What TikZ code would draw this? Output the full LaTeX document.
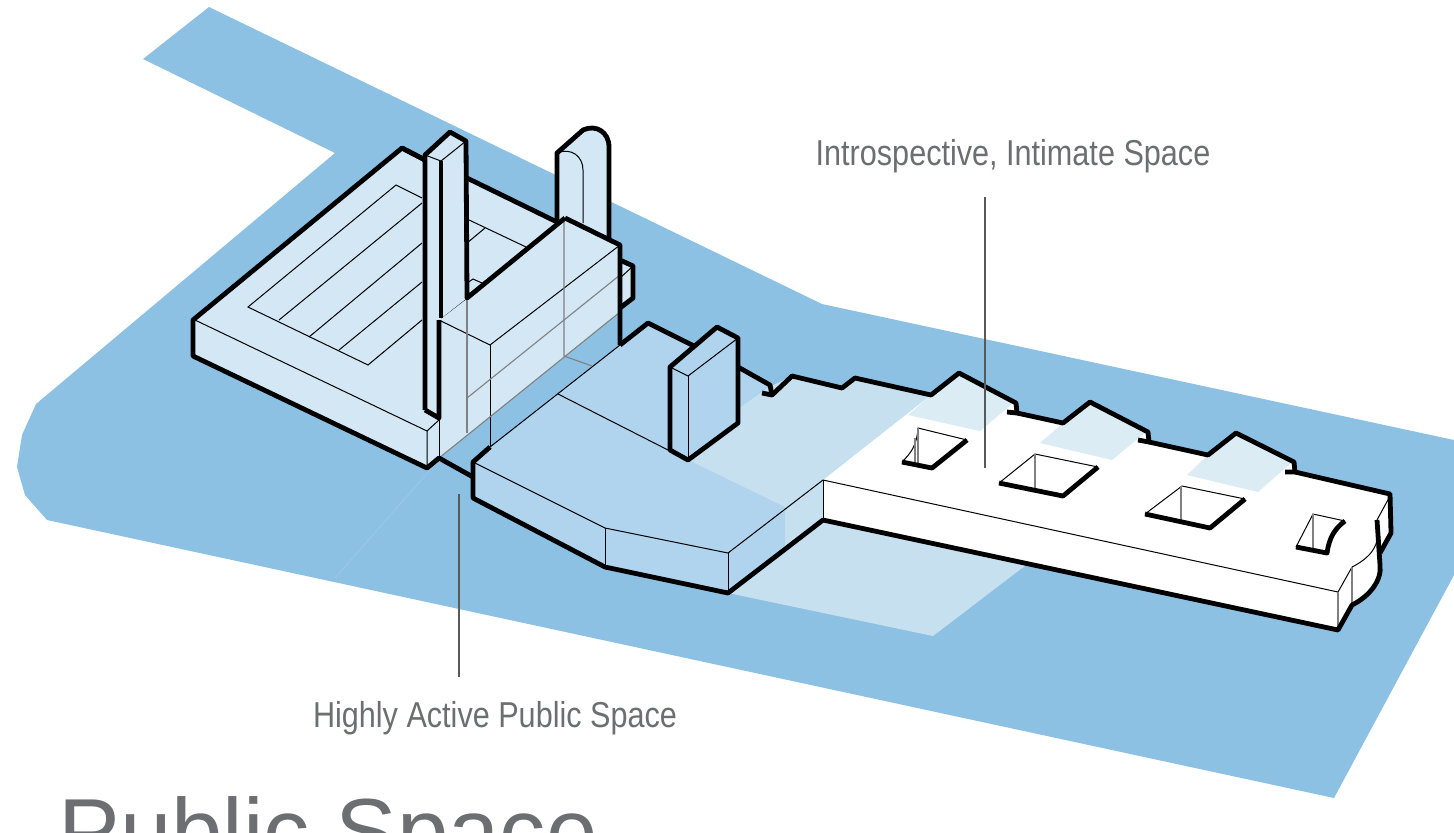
\documentclass[tikz,border=0pt]{standalone}
\usepackage{fontspec}
\usepackage{xcolor}
\setmainfont[FakeStretch=0.85]{Liberation Sans}
\newfontfamily\titlefont{Liberation Sans}
\definecolor{waterblue}{HTML}{8DC1E3}
\definecolor{washblue}{HTML}{C6E0F0}
\definecolor{plazablue}{HTML}{B0D4ED}
\definecolor{blockblue}{HTML}{D4E7F5}
\definecolor{patchblue}{HTML}{DBECF5}
\definecolor{labelgrey}{HTML}{6D6E71}

\begin{document}
\begin{tikzpicture}[
  x=0.5pt, y=-0.5pt,
  heavy/.style={draw=black, line width=2.4pt, line join=round},
  hair/.style={draw=black, line width=0.5pt},
  ghost/.style={draw=black!50, line width=0.55pt},
  leader/.style={draw=black!65, line width=0.55pt},
  caption/.style={text=labelgrey, inner sep=0pt, font=\fontsize{18}{20}\selectfont}
]
\useasboundingbox (0,0) rectangle (1454,832);
\clip (0,0) rectangle (1454,832);

% ---------- Ground ----------
\fill[waterblue] (209,7) -- (822,304) -- (1454,440) -- (1454,575) -- (1334,798) -- (47,520)
  -- (25,495) -- (17,467) -- (22,435) -- (36,404) -- (335,153) -- (143,59) -- cycle;
\draw[washblue!25!waterblue, line width=0.4pt] (430,470) -- (335,578);
% shadow wash under the plaza
\fill[washblue] (740,407) -- (767,388) -- (792,376) -- (842,388) -- (855,378) -- (931,395)
  -- (823,480) -- (823,520) -- (1030,562) -- (933,636) -- (728,593) -- (688,460) -- cycle;

% ---------- Plaza ----------
\fill[plazablue] (473,462) -- (490,447) -- (620,345) -- (648,323) -- (770,385) -- (740,407)
  -- (688,460) -- (785,507) -- (785,545) -- (728,593) -- (605,567) -- (473,498) -- cycle;
\draw[hair] (473,462) -- (605,528) -- (728,553) -- (823,480);
\draw[hair] (605,528) -- (605,567);
\draw[hair] (728,553) -- (728,593);
\draw[hair] (490,447) -- (620,345);
\draw[hair] (558,394) -- (670,451);

% ---------- White pier ----------
\fill[white] (823,480) -- (931,395) -- (959,373) -- (1016,403) -- (1017,413) -- (1063,423)
  -- (1090,402) -- (1148,432) -- (1149,442) -- (1208,455) -- (1236,433) -- (1294,462)
  -- (1295,472) -- (1390,494) -- (1391,533) -- (1380,553) -- (1380,565)
  .. controls (1382,580) and (1370,596) .. (1352,605) -- (1338,630) -- (823,520) -- cycle;
\fill[patchblue] (908,415) -- (931,395) -- (959,373) -- (1013,403) -- (980,431) -- cycle;
\fill[patchblue] (1040,443) -- (1063,423) -- (1090,402) -- (1146,432) -- (1112,460) -- cycle;
\fill[patchblue] (1187,475) -- (1208,455) -- (1236,433) -- (1292,462) -- (1258,492) -- cycle;
\draw[hair] (823,480) -- (1338,592) -- (1352,567);
\draw[hair] (823,480) -- (823,520);
\draw[ghost] (1338,592) -- (1338,630);
\draw[ghost] (1352,567) -- (1352,603);
\draw[hair] (1352,567) .. controls (1364,561) and (1375,552) .. (1377,540);
\draw[hair] (1390,496) -- (1377,520);

% courtyards in the pier
\draw[hair] (902,462) .. controls (912,452) and (917,444) .. (918,428) -- (967,440);
\draw[ghost] (918,428) -- (918,465);
\draw[ghost] (915,438) -- (915,465);
\draw[heavy] (902,462) -- (932,468) -- (967,440);
\draw[hair] (999,483) -- (1035,454) -- (1098,467);
\draw[ghost] (1035,454) -- (1035,488);
\draw[heavy] (999,483) -- (1063,496) -- (1098,467);
\draw[hair] (1145,514) -- (1182,486) -- (1245,499);
\draw[ghost] (1181,486) -- (1181,520);
\draw[heavy] (1145,514) -- (1210,528) -- (1245,499);
\draw[hair] (1296,547) -- (1313,514) -- (1345,521);
\draw[ghost] (1313,514) -- (1313,550);
\draw[heavy] (1296,547) -- (1327,553) .. controls (1329,538) and (1335,528) .. (1345,521);

% ---------- Outline of plaza and pier ----------
\draw[heavy] (620,345) -- (648,323) -- (700,349);
\draw[heavy] (738,367) -- (770,385) -- (772,395) -- (762,393);
\draw[heavy] (772,395) -- (792,376) -- (842,388) -- (855,378) -- (931,395) -- (959,373)
  -- (1016,403) -- (1017,413) -- (1007,412);
\draw[heavy] (1017,413) -- (1063,423) -- (1090,402) -- (1148,432) -- (1149,442) -- (1138,440);
\draw[heavy] (1149,442) -- (1208,455) -- (1236,433) -- (1294,462) -- (1295,472) -- (1285,472);
\draw[heavy] (1295,472) -- (1390,494) -- (1391,533) -- (1380,553);
\draw[heavy] (1377,520) -- (1380,565) .. controls (1382,580) and (1370,596) .. (1352,605)
  -- (1338,630) -- (823,520) -- (728,593) -- (605,567) -- (473,498) -- (473,462) -- (490,447);

% ---------- Arch behind the block ----------
\filldraw[heavy, fill=blockblue] (557,225) -- (557,153) -- (583,130)
  .. controls (596,124) and (609,132) .. (609,147) -- (609,240);
\draw[hair] (557,153) .. controls (572,147) and (583,157) .. (583,170) -- (583,223);

% ---------- Left slab and tower ----------
\fill[blockblue] (193,320) -- (402,148) -- (557,222) -- (565,218) -- (620,245) -- (620,312)
  -- (439,458) -- (427,468) -- (193,356) -- cycle;
% small box at the back of the tower
\filldraw[heavy, fill=blockblue] (620,260) -- (633,266) -- (633,298) -- (620,308);
\draw[hair] (620,278) -- (632,267);

% seat strips on the slab
\draw[hair] (422,198) -- (396,185) -- (248,307) -- (368,365) -- (422,320);
\draw[hair] (279,320) -- (422,203);
\draw[hair] (309,337) -- (422,243);
\draw[hair] (339,350) -- (422,282);
\draw[hair] (467,219) -- (526,247);
\draw[hair] (467,243) -- (485,228);
\draw[hair] (467,283) -- (473,279) -- (482,283);
\draw[hair] (195,320) -- (427,431) -- (427,468);
\draw[hair] (427,431) -- (439,420);

% tower drawn through
\draw[hair] (439,320) -- (490,345) -- (620,245);
\draw[hair] (490,345) -- (490,447);
\draw[hair] (441,318) -- (467,298);
\draw[ghost] (467,298) -- (467,433);
\draw[ghost] (564,220) -- (564,356) -- (592,366);
\draw[ghost] (467,398) -- (620,275);
\draw[ghost] (439,458) -- (620,312);
\draw[hair] (439,420) -- (439,457);

% ---------- Column ----------
\fill[blockblue] (425,155) -- (450,132) -- (466,141) -- (467,298) -- (439,320) -- (439,418)
  -- (425,410) -- cycle;
\draw[hair] (425,155) -- (441,161) -- (466,141);
\draw[heavy] (402,148) -- (425,160);
\draw[heavy] (425,410) -- (425,155) -- (450,132) -- (466,141) -- (467,298) -- (565,218);
\draw[heavy] (441,161) -- (441,318);
\draw[heavy] (425,410) -- (439,418) -- (439,320);
\draw[heavy] (467,178) -- (557,222);

% ---------- Outline of slab and tower ----------
\draw[heavy] (425,160) -- (402,148) -- (193,320) -- (193,356) -- (427,468) -- (439,458) -- (473,477);
\draw[heavy] (565,218) -- (620,245) -- (620,345);

% ---------- Tablet on the plaza ----------
\filldraw[heavy, fill=plazablue] (670,367) -- (717,327) -- (738,338) -- (738,423) -- (688,460)
  -- (670,450) -- cycle;
\draw[hair] (670,367) -- (688,376) -- (738,338);
\draw[hair] (688,376) -- (688,460);

% ---------- Labels ----------
\draw[leader] (985,197) -- (985,468);
\draw[leader] (459,494) -- (459,677);
\node[caption, anchor=base] (intimate) at (1013,165) {Introspective, Intimate Space};
\node[caption, anchor=base] (active) at (495,727) {Highly Active Public Space};
\node[text=labelgrey, inner sep=0pt, anchor=base west, font=\titlefont\fontsize{46.2}{50}\selectfont] (title) at (58,863) {Public Space};
\end{tikzpicture}
\end{document}
